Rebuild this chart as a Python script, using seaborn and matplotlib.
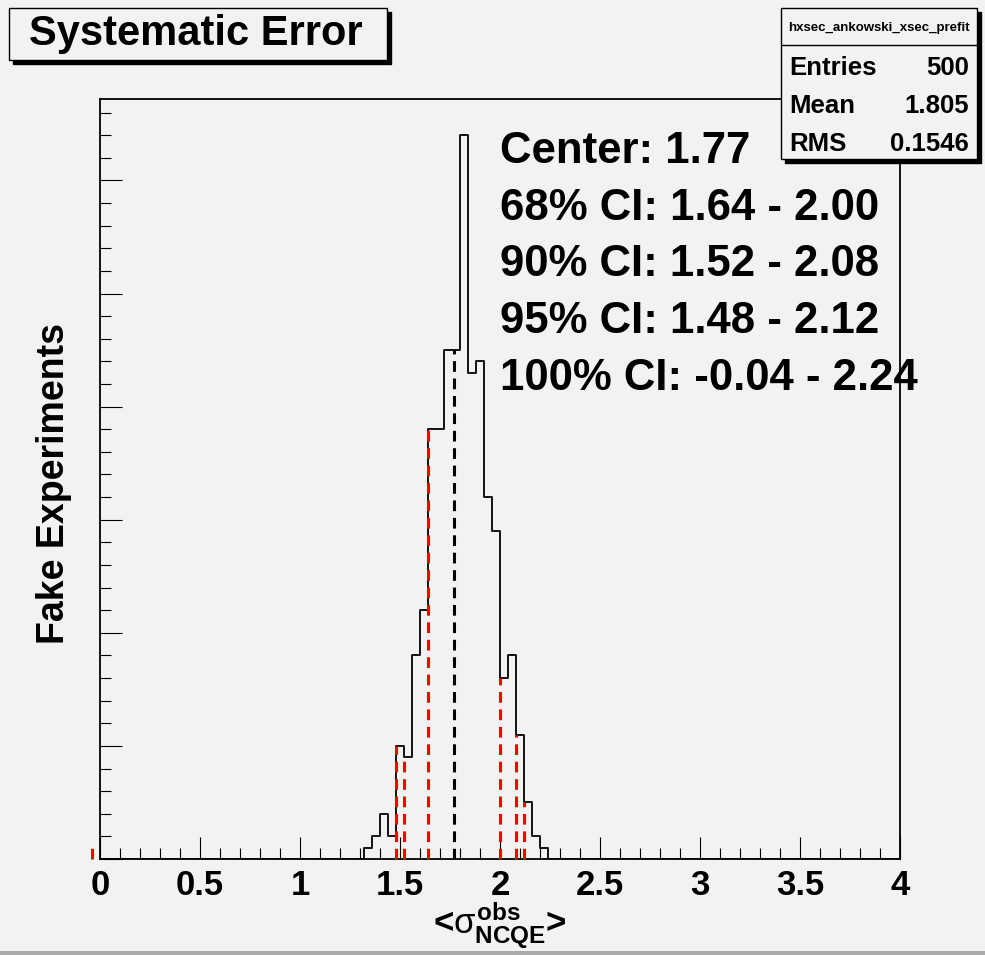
import numpy as np
import pandas as pd
import matplotlib
matplotlib.use("Agg")
import matplotlib.pyplot as plt
import seaborn as sns
from matplotlib.patches import Rectangle
from matplotlib.lines import Line2D
from matplotlib.ticker import MultipleLocator

# ---------------- data ----------------
x_min, x_max, n_bins = 0.0, 4.0, 100
first_filled_edge = 1.32
filled_counts = [1, 2, 4, 2, 10, 9, 18, 22, 38, 38, 45, 45, 64,
                 43, 44, 32, 29, 16, 18, 11, 5, 2, 1]
underflow = 1
center = 1.77
ci_levels = ["68%", "90%", "95%", "100%"]
ci_low = [1.64, 1.52, 1.48, -0.04]
ci_high = [2.00, 2.08, 2.12, 2.24]
x_ticks = [0, 0.5, 1, 1.5, 2, 2.5, 3, 3.5, 4]
x_tick_labels = ["0", "0.5", "1", "1.5", "2", "2.5", "3", "3.5", "4"]
stat_names = ["Entries", "Mean", "RMS"]
stat_values = ["500", "1.805", "0.1546"]
hist_name = "hxsec_ankowski_xsec_prefit"
title = "Systematic Error"
y_label = "Fake Experiments"

# ---------------- build histogram arrays ----------------
edges = np.linspace(x_min, x_max, n_bins + 1)
width = edges[1] - edges[0]
counts = np.zeros(n_bins)
i0 = int(round((first_filled_edge - x_min) / width))
counts[i0:i0 + len(filled_counts)] = filled_counts
centers = 0.5 * (edges[:-1] + edges[1:])
df = pd.DataFrame({"x": centers, "w": counts})


def content_at(v):
    if v < x_min:
        return underflow
    i = int(np.floor((v - x_min) / width + 1e-6))
    return counts[i] if i < n_bins else 0.0


BG = "#f2f2f2"
W, H = 985, 955
sns.set_style("white")
plt.rcParams["font.family"] = ["Liberation Sans", "DejaVu Sans"]
plt.rcParams["text.color"] = "black"
plt.rcParams["xtick.color"] = "black"
plt.rcParams["ytick.color"] = "black"
plt.rcParams["axes.labelcolor"] = "black"
plt.rcParams["mathtext.fontset"] = "custom"
plt.rcParams["mathtext.rm"] = "Liberation Sans:bold"
plt.rcParams["mathtext.bf"] = "Liberation Sans:bold"
plt.rcParams["mathtext.it"] = "Liberation Sans"

fig = plt.figure(figsize=(W / 100, H / 100), dpi=100, facecolor=BG)


def fx(px):
    return px / W


def fy(py):
    return 1 - py / H


ax = fig.add_axes([fx(100), fy(859), 800 / W, 760 / H])
ax.set_facecolor(BG)

sns.histplot(data=df, x="x", weights="w", bins=n_bins, binrange=(x_min, x_max),
             element="step", fill=False, color="black", linewidth=1.3, ax=ax)

ymax = 1.05 * counts.max()
ax.set_xlim(x_min, x_max)
ax.set_ylim(0, ymax)

# CI lines
dash = (0, (3.5, 2.2))
for lo, hi in zip(ci_low, ci_high):
    for v in (lo, hi):
        h = content_at(v)
        if h > 0:
            ax.plot([v, v], [0, h], color="red", lw=2.2, ls=dash,
                    clip_on=False, zorder=4)
ax.plot([center, center], [0, content_at(center)], color="black", lw=2.2,
        ls=dash, zorder=4)

# axes styling
for s in ax.spines.values():
    s.set_linewidth(1.3)
    s.set_color("black")
ax.xaxis.set_major_locator(MultipleLocator(0.5))
ax.xaxis.set_minor_locator(MultipleLocator(0.1))
ax.yaxis.set_major_locator(MultipleLocator(10))
ax.yaxis.set_minor_locator(MultipleLocator(2))
ax.tick_params(which="both", direction="in", bottom=True, left=True,
               top=False, right=False, width=0.8, color="black")
ax.tick_params(which="major", length=16)
ax.tick_params(which="minor", length=8)
ax.set_xticks(x_ticks)
ax.set_xticklabels(x_tick_labels, fontsize=25, fontweight="bold", color="black")
ax.tick_params(axis="x", pad=7)
ax.set_yticklabels([])
ax.set_xlabel("")
ax.set_ylabel("")

# axis titles
fig.text(fx(54), fy(483), y_label, rotation=90, ha="center", va="center",
         fontsize=27, fontweight="bold")
fig.text(fx(500), fy(926), r"<$\sigma^{\mathbf{obs}}_{\mathbf{NCQE}}$>",
         ha="center", va="center", fontsize=25, fontweight="bold")

# CI text
lines = [f"Center: {center:.2f}"] + [
    f"{lvl} CI: {lo:.2f} - {hi:.2f}" for lvl, lo, hi in zip(ci_levels, ci_low, ci_high)]
for k, t in enumerate(lines):
    fig.text(fx(500), fy(163 + 56.7 * k), t, ha="left", va="baseline",
             fontsize=31.5, fontweight="bold", zorder=5)


def shadow_box(x0, y0, x1, y1, off=4):
    fig.patches.append(Rectangle((fx(x0 + off), fy(y1 + off)), (x1 - x0) / W,
                                 (y1 - y0) / H, transform=fig.transFigure,
                                 facecolor="black", edgecolor="black",
                                 zorder=10))
    fig.patches.append(Rectangle((fx(x0), fy(y1)), (x1 - x0) / W,
                                 (y1 - y0) / H, transform=fig.transFigure,
                                 facecolor=BG, edgecolor="black", lw=1.0,
                                 zorder=11))


# title box
shadow_box(9, 8, 387, 60)
fig.text(fx(196), fy(45), title, ha="center", va="baseline", fontsize=30,
         fontweight="bold", zorder=12)

# stats box
shadow_box(781, 8, 977, 159, off=4)
fig.lines.append(Line2D([fx(781), fx(977)], [fy(45), fy(45)],
                        transform=fig.transFigure, color="black", lw=1.0,
                        zorder=12))
fig.text(fx(879), fy(31), hist_name, ha="center", va="baseline", fontsize=9.5,
         fontweight="bold", zorder=12)
for k, (n, v) in enumerate(zip(stat_names, stat_values)):
    yb = 75 + 38 * k
    fig.text(fx(789), fy(yb), n, ha="left", va="baseline", fontsize=18.5,
             fontweight="bold", zorder=12)
    fig.text(fx(969), fy(yb), v, ha="right", va="baseline", fontsize=18.5,
             fontweight="bold", zorder=12)

# canvas bottom border
fig.patches.append(Rectangle((0, 0), 1, 4 / H, transform=fig.transFigure,
                             facecolor="#aaaaaa", edgecolor="none", zorder=1))

fig.savefig("out.png", dpi=100, facecolor=BG)
